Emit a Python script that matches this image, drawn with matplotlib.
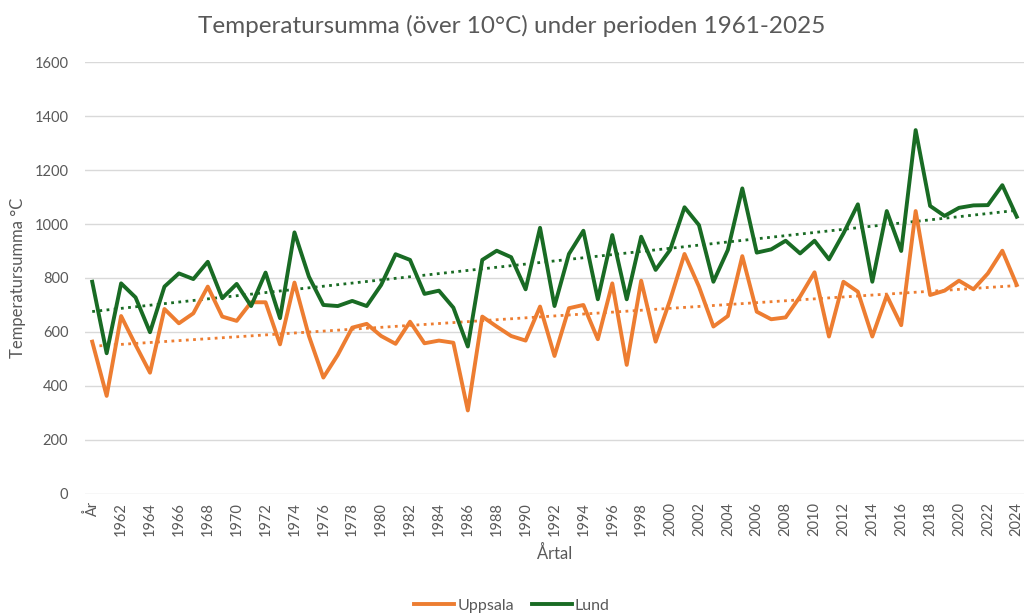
#!/usr/bin/env python3

# Temperatursumma (över 10°C), Uppsala och Lund, 1961-2025

import numpy as np
import matplotlib.pyplot as plt

OUTPUT_FILENAME = "out.png"
FIGURE_SIZE     = (10.24, 6.15)

TEXT_GREY = "#595959"
ORANGE    = "#ED7D31"
GREEN     = "#196B24"

# first category is the header cell "År" that ended up in the series
categories = ["År"] + [str(y) for y in range(1961, 2025)]

uppsala = [564, 363, 659, 552, 449, 685, 632, 669, 768, 657,
           641, 710, 710, 554, 783, 585, 431, 515, 616, 630,
           585, 556, 638, 558, 568, 560, 309, 657, 620, 585,
           568, 694, 511, 688, 700, 573, 780, 478, 790, 564,
           718, 889, 768, 620, 659, 881, 675, 647, 654, 731,
           821, 583, 786, 749, 583, 735, 625, 1048, 737, 753,
           790, 758, 817, 901, 774]

lund = [786, 521, 780, 728, 599, 768, 817, 796, 860, 725,
        778, 696, 820, 651, 969, 805, 700, 696, 715, 696,
        774, 888, 867, 741, 753, 690, 546, 867, 901, 877,
        758, 986, 696, 889, 975, 721, 959, 721, 953, 830,
        904, 1062, 996, 786, 904, 1132, 894, 906, 938, 891,
        938, 869, 965, 1073, 786, 1048, 900, 1348, 1067, 1030,
        1060, 1069, 1070, 1144, 1027]

yticks = [0, 200, 400, 600, 800, 1000, 1200, 1400, 1600]

plt.rcParams['font.family'] = ['Lato', 'DejaVu Sans']

fig = plt.figure(figsize=FIGURE_SIZE, dpi=100)
ax = fig.add_axes([0.083, 0.197, 0.917, 0.702])

x = np.arange(len(categories))

ax.plot(x, uppsala, color=ORANGE, lw=2.8, label="Uppsala", solid_joinstyle='round', zorder=3)
ax.plot(x, lund, color=GREEN, lw=2.8, label="Lund", solid_joinstyle='round', zorder=3)

# linear trend lines
for series, col in [(uppsala, ORANGE), (lund, GREEN)]:
    k, m = np.polyfit(x, series, 1)
    ax.plot(x, k * x + m, color=col, lw=2.0, linestyle=(0, (1, 1.6)), zorder=2)

ax.set_xlim(-0.5, len(categories) - 0.5)
ax.set_ylim(0, 1600)
ax.set_yticks(yticks)
ax.set_xticks(x[::2])
ax.set_xticklabels(categories[::2], rotation=90)

ax.grid(axis='y', color="#D9D9D9", lw=1)
ax.set_axisbelow(True)
for s in ax.spines.values():
    s.set_visible(False)
ax.tick_params(axis='both', length=0, colors=TEXT_GREY, labelsize=10.5)
ax.tick_params(axis='y', pad=12)
ax.tick_params(axis='x', pad=6)

fig.text(0.5, 0.958, "Temperatursumma (över 10°C) under perioden 1961-2025",
         fontsize=17.5, color=TEXT_GREY, ha='center', va='center')
ax.set_xlabel("Årtal", fontsize=12, color=TEXT_GREY, labelpad=6)
ax.set_ylabel("Temperatursumma °C", fontsize=12, color=TEXT_GREY, labelpad=6)

h = [ax.lines[0], ax.lines[1]]
leg = fig.legend(h, ["Uppsala", "Lund"], loc='lower center', bbox_to_anchor=(0.5, -0.02),
                 ncol=2, frameon=False, fontsize=11.5, handlelength=2.5,
                 columnspacing=1.1, handletextpad=0.2)
for t in leg.get_texts():
    t.set_color(TEXT_GREY)

fig.savefig(OUTPUT_FILENAME, dpi=100)
